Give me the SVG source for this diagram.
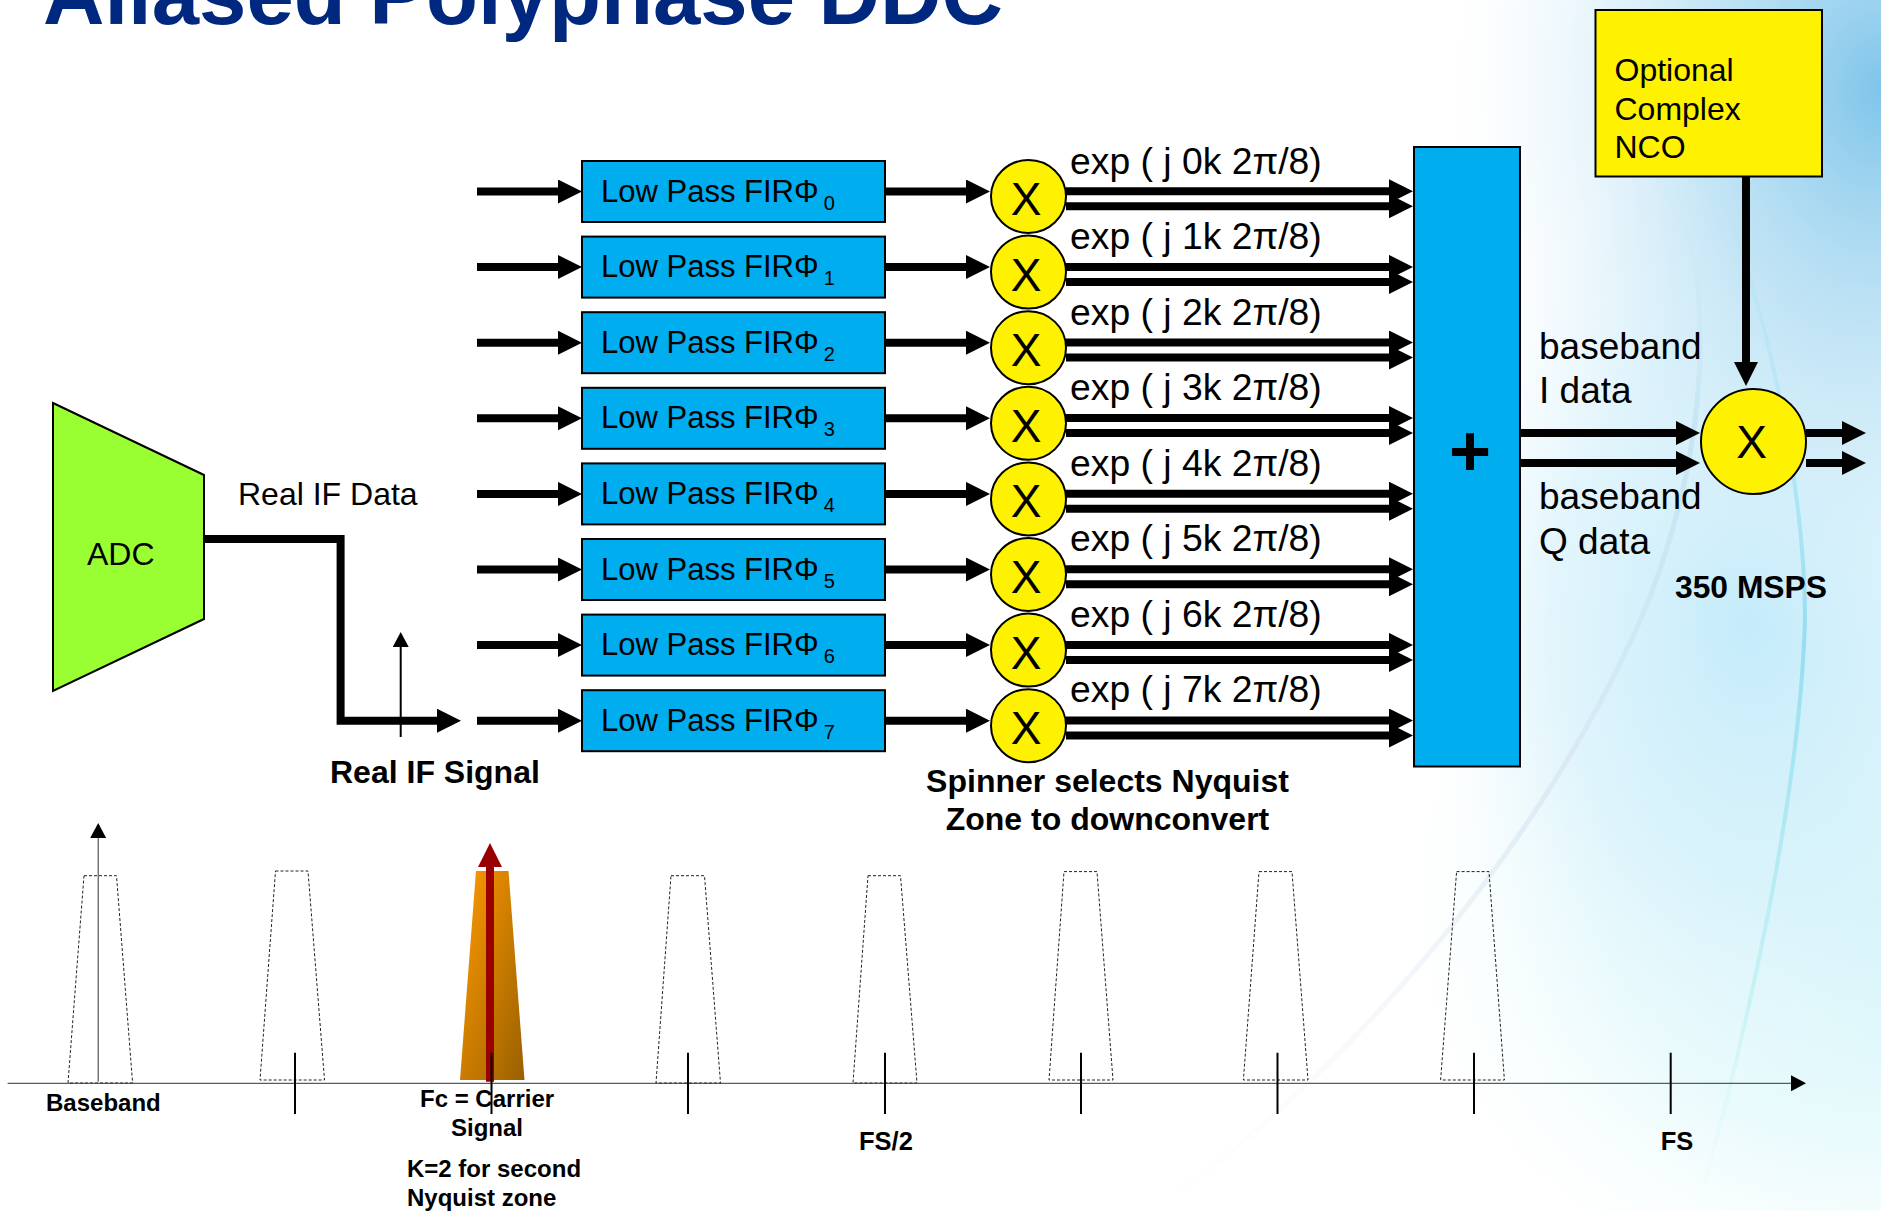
<svg xmlns="http://www.w3.org/2000/svg" width="1881" height="1211" viewBox="0 0 1881 1211">
<defs>
<radialGradient id="bgTop" gradientUnits="userSpaceOnUse" cx="0" cy="0" r="1" gradientTransform="translate(1881 90) scale(430 560)"><stop offset="0" stop-color="#7fc5ea"/><stop offset="0.45" stop-color="#b5def3" stop-opacity="0.75"/><stop offset="1" stop-color="#e6f5fc" stop-opacity="0"/></radialGradient>
<radialGradient id="bgMid" gradientUnits="userSpaceOnUse" cx="0" cy="0" r="1" gradientTransform="translate(1750 620) scale(330 470)"><stop offset="0" stop-color="#c4ebfa"/><stop offset="0.6" stop-color="#d9f2fb" stop-opacity="0.75"/><stop offset="1" stop-color="#eef9fd" stop-opacity="0"/></radialGradient>
<radialGradient id="bgLow" gradientUnits="userSpaceOnUse" cx="0" cy="0" r="1" gradientTransform="translate(1881 900) scale(480 420)"><stop offset="0" stop-color="#cff3f9"/><stop offset="0.6" stop-color="#e2f9fb" stop-opacity="0.7"/><stop offset="1" stop-color="#f2fcfd" stop-opacity="0"/></radialGradient>
<linearGradient id="curveA" gradientUnits="userSpaceOnUse" x1="0" y1="180" x2="0" y2="1211"><stop offset="0" stop-color="#cfe6f3" stop-opacity="0"/><stop offset="0.25" stop-color="#bfe3f2" stop-opacity="0.8"/><stop offset="0.6" stop-color="#dbe8f3" stop-opacity="0.8"/><stop offset="1" stop-color="#eef3f8" stop-opacity="0"/></linearGradient>
<linearGradient id="curveB" gradientUnits="userSpaceOnUse" x1="0" y1="180" x2="0" y2="1211"><stop offset="0" stop-color="#a5e3f2" stop-opacity="0"/><stop offset="0.45" stop-color="#8fdcf0" stop-opacity="0.9"/><stop offset="0.8" stop-color="#b6f0f2" stop-opacity="0.6"/><stop offset="1" stop-color="#dcfafa" stop-opacity="0"/></linearGradient>
<linearGradient id="orange" x1="0" y1="0" x2="1" y2="1"><stop offset="0" stop-color="#ff9a00"/><stop offset="1" stop-color="#996000"/></linearGradient>
<marker id="h8" markerUnits="userSpaceOnUse" markerWidth="25" markerHeight="25" refX="1" refY="12" orient="auto"><path d="M0 0L24 12L0 24Z" fill="#000"/></marker>
<marker id="hs" markerUnits="userSpaceOnUse" markerWidth="16" markerHeight="16" refX="1" refY="8" orient="auto"><path d="M0 0L15 8L0 16Z" fill="#000"/></marker>
<marker id="hr" markerUnits="userSpaceOnUse" markerWidth="25" markerHeight="25" refX="1" refY="12" orient="auto"><path d="M0 0L24 12L0 24Z" fill="#990000"/></marker>
</defs>
<style>
text{font-family:"Liberation Sans",Arial,sans-serif;fill:#000}
.b{font-weight:700}
.s32{font-size:32px}
.s24{font-size:24px;font-weight:700}
.s25{font-size:25.500px;font-weight:700}
.exp{font-size:37.300px}
.fir{font-size:31px}
.big{font-size:37px}
.xx{font-size:46px;text-anchor:middle}
.block{fill:#00adef;stroke:#000;stroke-width:2}
.mul{fill:#fff200;stroke:#000;stroke-width:2}
.w{fill:none;stroke:#000;stroke-width:8;marker-end:url(#h8)}
.thin{fill:none;stroke:#000;stroke-width:2}
.dash{fill:none;stroke:#222;stroke-width:1;stroke-dasharray:3 2}
</style>
<g id="background">
<rect width="1881" height="1211" fill="#fff"/>
<rect width="1881" height="1211" fill="url(#bgLow)"/>
<rect width="1881" height="1211" fill="url(#bgMid)"/>
<rect width="1881" height="1211" fill="url(#bgTop)"/>
<path d="M1150 1211C1320 1100 1540 860 1648 602C1680 520 1712 400 1696 270C1688 225 1670 195 1650 180" fill="none" stroke="url(#curveA)" stroke-width="5"/>
<path d="M1697 1211C1745 1040 1800 800 1805 618C1805 520 1780 340 1717 185" fill="none" stroke="url(#curveB)" stroke-width="4"/>
</g>
<text id="title" x="43" y="24" class="b" font-size="85.100" style="fill:#00287f">Aliased Polyphase DDC</text>
<g id="connectors">
<path class="w" d="M204 539H340.600V720.700H438"/>
<path class="thin" d="M400.700 737V646" marker-end="url(#hs)"/>
<path class="w" d="M477 191.500H559"/><path class="w" d="M477 267.100H559"/><path class="w" d="M477 342.700H559"/><path class="w" d="M477 418.300H559"/><path class="w" d="M477 493.900H559"/><path class="w" d="M477 569.500H559"/><path class="w" d="M477 645.100H559"/><path class="w" d="M477 720.700H559"/>
<path class="w" d="M885 191.500H967"/><path class="w" d="M885 267.100H967"/><path class="w" d="M885 342.700H967"/><path class="w" d="M885 418.300H967"/><path class="w" d="M885 493.900H967"/><path class="w" d="M885 569.500H967"/><path class="w" d="M885 645.100H967"/><path class="w" d="M885 720.700H967"/>
<path class="w" d="M1066 191.300H1390"/><path class="w" d="M1066 206.300H1390"/>
<path class="w" d="M1066 266.900H1390"/><path class="w" d="M1066 281.900H1390"/>
<path class="w" d="M1066 342.500H1390"/><path class="w" d="M1066 357.500H1390"/>
<path class="w" d="M1066 418.100H1390"/><path class="w" d="M1066 433.100H1390"/>
<path class="w" d="M1066 493.700H1390"/><path class="w" d="M1066 508.700H1390"/>
<path class="w" d="M1066 569.300H1390"/><path class="w" d="M1066 584.300H1390"/>
<path class="w" d="M1066 644.900H1390"/><path class="w" d="M1066 659.900H1390"/>
<path class="w" d="M1066 720.500H1390"/><path class="w" d="M1066 735.500H1390"/>
<path class="w" d="M1520 433H1677"/><path class="w" d="M1520 463H1677"/>
<path class="w" d="M1806 433H1843"/><path class="w" d="M1806 463H1843"/>
<path class="w" d="M1746 176V363"/>
</g>
<g id="adc"><path d="M53 403L204 475V619L53 691Z" fill="#99ff33" stroke="#000" stroke-width="2"/><text x="87" y="564.500" class="s32">ADC</text></g>
<g id="fir0"><rect class="block" x="582" y="161" width="303" height="61"/><text class="fir" x="601" y="201.500">Low Pass FIRΦ<tspan font-size="20" dx="5" dy="8">0</tspan></text></g>
<g id="fir1"><rect class="block" x="582" y="236.600" width="303" height="61"/><text class="fir" x="601" y="277.100">Low Pass FIRΦ<tspan font-size="20" dx="5" dy="8">1</tspan></text></g>
<g id="fir2"><rect class="block" x="582" y="312.200" width="303" height="61"/><text class="fir" x="601" y="352.700">Low Pass FIRΦ<tspan font-size="20" dx="5" dy="8">2</tspan></text></g>
<g id="fir3"><rect class="block" x="582" y="387.800" width="303" height="61"/><text class="fir" x="601" y="428.300">Low Pass FIRΦ<tspan font-size="20" dx="5" dy="8">3</tspan></text></g>
<g id="fir4"><rect class="block" x="582" y="463.400" width="303" height="61"/><text class="fir" x="601" y="503.900">Low Pass FIRΦ<tspan font-size="20" dx="5" dy="8">4</tspan></text></g>
<g id="fir5"><rect class="block" x="582" y="539" width="303" height="61"/><text class="fir" x="601" y="579.500">Low Pass FIRΦ<tspan font-size="20" dx="5" dy="8">5</tspan></text></g>
<g id="fir6"><rect class="block" x="582" y="614.600" width="303" height="61"/><text class="fir" x="601" y="655.100">Low Pass FIRΦ<tspan font-size="20" dx="5" dy="8">6</tspan></text></g>
<g id="fir7"><rect class="block" x="582" y="690.200" width="303" height="61"/><text class="fir" x="601" y="730.700">Low Pass FIRΦ<tspan font-size="20" dx="5" dy="8">7</tspan></text></g>
<g id="mul0"><ellipse class="mul" cx="1028.500" cy="196.500" rx="37.500" ry="36.500"/><text class="xx" x="1026" y="215">X</text></g>
<g id="mul1"><ellipse class="mul" cx="1028.500" cy="272.100" rx="37.500" ry="36.500"/><text class="xx" x="1026" y="290.600">X</text></g>
<g id="mul2"><ellipse class="mul" cx="1028.500" cy="347.700" rx="37.500" ry="36.500"/><text class="xx" x="1026" y="366.200">X</text></g>
<g id="mul3"><ellipse class="mul" cx="1028.500" cy="423.300" rx="37.500" ry="36.500"/><text class="xx" x="1026" y="441.800">X</text></g>
<g id="mul4"><ellipse class="mul" cx="1028.500" cy="498.900" rx="37.500" ry="36.500"/><text class="xx" x="1026" y="517.400">X</text></g>
<g id="mul5"><ellipse class="mul" cx="1028.500" cy="574.500" rx="37.500" ry="36.500"/><text class="xx" x="1026" y="593">X</text></g>
<g id="mul6"><ellipse class="mul" cx="1028.500" cy="650.100" rx="37.500" ry="36.500"/><text class="xx" x="1026" y="668.600">X</text></g>
<g id="mul7"><ellipse class="mul" cx="1028.500" cy="725.700" rx="37.500" ry="36.500"/><text class="xx" x="1026" y="744.200">X</text></g>
<g id="exp-labels">
<text class="exp" x="1070" y="173.500">exp ( j 0k 2π/8)</text>
<text class="exp" x="1070" y="249">exp ( j 1k 2π/8)</text>
<text class="exp" x="1070" y="324.500">exp ( j 2k 2π/8)</text>
<text class="exp" x="1070" y="400">exp ( j 3k 2π/8)</text>
<text class="exp" x="1070" y="475.500">exp ( j 4k 2π/8)</text>
<text class="exp" x="1070" y="551">exp ( j 5k 2π/8)</text>
<text class="exp" x="1070" y="626.500">exp ( j 6k 2π/8)</text>
<text class="exp" x="1070" y="702">exp ( j 7k 2π/8)</text>
</g>
<g id="sum"><rect class="block" x="1414" y="147" width="106" height="619.500"/><text x="1470" y="476" class="b" font-size="72" text-anchor="middle">+</text></g>
<g id="nco"><rect x="1595.500" y="10" width="226.500" height="166.500" fill="#fff200" stroke="#000" stroke-width="2"/><text class="s32" x="1614.500" y="81">Optional</text><text class="s32" x="1614.500" y="120">Complex</text><text class="s32" x="1614.500" y="158">NCO</text></g>
<g id="mixer"><ellipse class="mul" cx="1753.500" cy="441.500" rx="52.500" ry="52.500"/><text class="xx" x="1751.500" y="458">X</text></g>
<g id="labels">
<text class="big" x="1539" y="358.500">baseband</text>
<text class="big" x="1539" y="403">I data</text>
<text class="big" x="1539" y="509">baseband</text>
<text class="big" x="1539" y="553.500">Q data</text>
<text class="b" font-size="31.800" x="1675" y="598">350 MSPS</text>
<text class="s32" x="238" y="505">Real IF Data</text>
<text class="s32 b" x="330" y="783">Real IF Signal</text>
<text class="s32 b" x="1107.500" y="792" text-anchor="middle">Spinner selects Nyquist</text>
<text class="s32 b" x="1107.500" y="830" text-anchor="middle">Zone to downconvert</text>
</g>
<g id="spectrum">
<path d="M476 871H508.500L524.500 1080H460Z" fill="url(#orange)"/>
<path class="dash" d="M84 875.700H116.500L132.600 1083H68Z"/>
<path class="dash" d="M275.500 871H308L324.500 1080H260Z"/>
<path class="dash" d="M671 875.700H704.500L720.500 1083H656Z"/>
<path class="dash" d="M868 875.700H900.500L917 1083H853Z"/>
<path class="dash" d="M1064 871.600H1097L1113 1080H1049Z"/>
<path class="dash" d="M1259 871.600H1292L1308 1080H1243.400Z"/>
<path class="dash" d="M1456.600 871.600H1489L1504.400 1080H1440.600Z"/>
<path d="M7.600 1083.300H1792" fill="none" stroke="#333" stroke-width="1" marker-end="url(#hs)"/>
<path d="M98.200 1081.700V837" fill="none" stroke="#333" stroke-width="1" marker-end="url(#hs)"/>
<path d="M490 1081.700V866" fill="none" stroke="#990000" stroke-width="8" marker-end="url(#hr)"/>
<path class="thin" d="M295 1052.700V1114M491.500 1052.700V1114M688 1052.700V1114M885 1052.700V1114M1081 1052.700V1114M1277.500 1052.700V1114M1474 1052.700V1114M1670.700 1052.700V1114"/>
<text class="s24" x="46" y="1110.700">Baseband</text>
<text class="s24" x="420" y="1106.700">Fc = Carrier</text>
<text class="s24" x="451" y="1136">Signal</text>
<text class="s24" x="407" y="1176.700">K=2 for second</text>
<text class="s24" x="407" y="1206">Nyquist zone</text>
<text class="s25" x="859" y="1149.500">FS/2</text>
<text class="s25" x="1660.700" y="1149.500">FS</text>
</g>
</svg>
